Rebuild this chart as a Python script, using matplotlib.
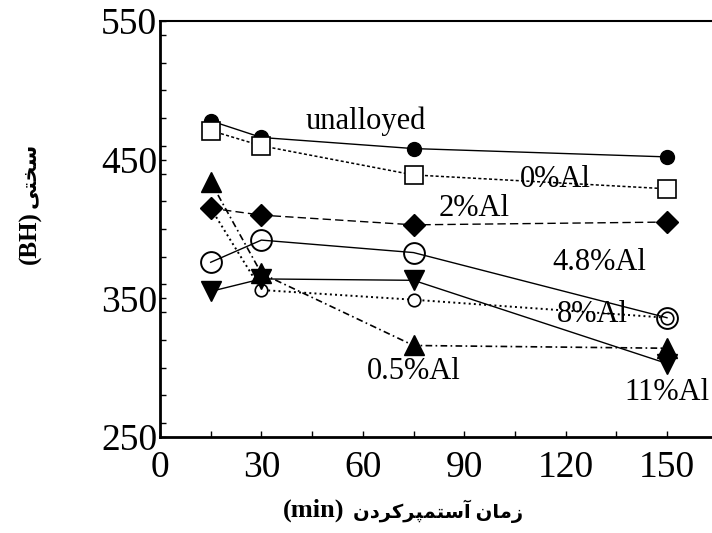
import matplotlib
matplotlib.use("Agg")
import matplotlib.pyplot as plt
from matplotlib.ticker import MultipleLocator

# ---- data ----
time_min = [15, 30, 75, 150]
unalloyed = [478, 466, 458, 452]
al_0 = [471, 460, 439, 429]
al_2 = [415, 410, 403, 405]
al_4_8 = [376, 392, 383, 336]
al_8 = [415, 356, 349, 336]
al_0_5 = [434, 368, 316, 314]
al_11 = [355, 364, 363, 303]

x_ticks = [0, 30, 60, 90, 120, 150]
y_ticks = [250, 350, 450, 550]

# Persian axis titles (presentation forms, visual order)
x_title_unit = "(min)"
x_title_fa = "\uFEE5\uFEA9\uFEAE\uFB90\uFEAE\uFB59\uFEE4\uFE98\uFEB3\uFE81" + " " + "\uFEE5\uFE8E\uFEE3\uFEAF"
y_title_unit = "(BH)"
y_title_fa = "\uFBFD\uFE98\uFEA8\uFEB3"

serif = ["Liberation Serif", "DejaVu Serif"]
plt.rcParams["font.family"] = serif

fig = plt.figure(figsize=(7.12, 5.33), dpi=100)
ax = fig.add_axes([160 / 712, 96 / 533, (712 - 160) / 712, 416 / 533])

k = "black"
ax.plot(time_min, unalloyed, "-", color=k, lw=1.0, marker="o", ms=10, mfc=k, mec=k)
ax.plot(time_min, al_0, dashes=(2, 1.5), color=k, lw=1.1, marker="s", ms=13, mfc="white", mec=k, mew=1.2)
ax.plot(time_min, al_8, ":", color=k, lw=1.4, marker="o", ms=9, mfc="white", mec=k, mew=1.2)
ax.plot(time_min, al_4_8, "-", color=k, lw=1.0, marker="o", ms=15, mfc="none", mec=k, mew=1.4)
ax.plot(time_min, al_0_5, dashes=(4, 2, 1, 2), color=k, lw=1.2, marker="^", ms=14, mfc=k, mec=k)
ax.plot(time_min, al_11, "-", color=k, lw=1.0, marker="v", ms=14, mfc=k, mec=k)
ax.plot(time_min, al_2, dashes=(6, 3), color=k, lw=1.0, marker="D", ms=11, mfc=k, mec=k)

lab = dict(fontsize=22, ha="center", va="center", family=serif, color=k)
ax.text(61, 478, "unalloyed", **lab)
ax.text(117, 436, "0%Al", **lab)
ax.text(93, 415, "2%Al", **lab)
ax.text(130, 376, "4.8%Al", **lab)
ax.text(128, 338, "8%Al", **lab)
ax.text(75, 297, "0.5%Al", **lab)
ax.text(150, 282, "11%Al", **lab)

ax.set_xlim(0, (712 - 160) / 3.38)
ax.set_ylim(250, 550)
ax.set_xticks(x_ticks)
ax.set_yticks(y_ticks)
ax.xaxis.set_minor_locator(MultipleLocator(15))
ax.yaxis.set_minor_locator(MultipleLocator(20))
ax.tick_params(which="both", direction="in", length=4, width=1)
ax.tick_params(which="major", labelsize=27)
ax.tick_params(axis="x", which="major", pad=10)
ax.tick_params(axis="y", which="major", pad=2)
ax.tick_params(axis="x", which="both", top=False)
ax.tick_params(axis="y", which="both", right=False)
ax.spines["right"].set_visible(False)
for s in ["left", "bottom"]:
    ax.spines[s].set_linewidth(2.0)
ax.spines["top"].set_linewidth(1.5)

mixed = ["Liberation Serif", "DejaVu Sans"]
fig.text(314 / 712, 1 - 510 / 533, x_title_unit, ha="center", va="center", fontsize=19,
         fontweight="bold", family=mixed)
fig.text(438 / 712, 1 - 511 / 533, x_title_fa, ha="center", va="center", fontsize=14,
         fontweight="bold", family=mixed)
fig.text(30 / 712, 1 - 238 / 533, y_title_unit, ha="center", va="center", fontsize=18,
         rotation=90, fontweight="bold", family=mixed)
fig.text(30 / 712, 1 - 175 / 533, y_title_fa, ha="center", va="center", fontsize=15,
         rotation=90, fontweight="bold", family=mixed)

fig.savefig("out.png", dpi=100)
